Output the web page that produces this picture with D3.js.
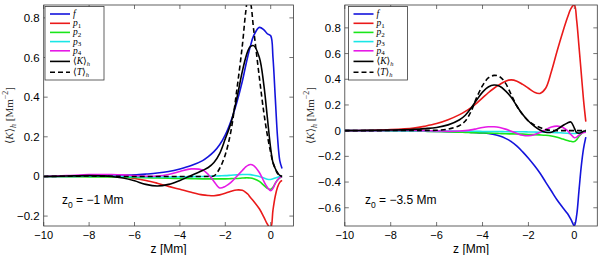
<!DOCTYPE html>
<html>
<head>
<meta charset="utf-8">
<script src="https://cdn.jsdelivr.net/npm/d3@7"></script>
<style>
  body { margin: 0; background: #fff; }
  svg { display: block; }
  text { font-family: "Liberation Sans", Arial, sans-serif; }
</style>
</head>
<body>
<script>
// ---- data: left panel (z0 = -1 Mm) ----
const zLeft = [-10, -9, -8, -7, -6.5, -6, -5.5, -5, -4.5, -4, -3.5, -3, -2.75, -2.5, -2.25, -2, -1.75, -1.5, -1.25, -1.1, -1, -0.9, -0.75, -0.5, -0.3, -0.15, 0, 0.1, 0.2, 0.3, 0.4, 0.5];
const fLeft  = [0, 0.001, 0.002, 0.004, 0.006, 0.008, 0.012, 0.017, 0.025, 0.038, 0.055, 0.08, 0.1, 0.125, 0.16, 0.21, 0.28, 0.37, 0.48, 0.56, 0.61, 0.655, 0.71, 0.752, 0.74, 0.72, 0.71, 0.6, 0.4, 0.2, 0.08, 0.04];
const p1Left = [0, 0, 0.001, 0, -0.003, -0.01, -0.02, -0.034, -0.05, -0.065, -0.08, -0.093, -0.096, -0.097, -0.093, -0.085, -0.075, -0.068, -0.07, -0.08, -0.09, -0.105, -0.125, -0.163, -0.205, -0.24, -0.26, -0.17, -0.1, -0.055, -0.03, -0.02];
const p2Left = [0, -0.001, -0.002, -0.003, -0.004, -0.005, -0.006, -0.008, -0.009, -0.01, -0.011, -0.012, -0.012, -0.012, -0.012, -0.012, -0.011, -0.01, -0.008, -0.007, -0.007, -0.008, -0.012, -0.025, -0.045, -0.06, -0.065, -0.055, -0.035, -0.018, -0.007, 0];
const p3Left = [0, 0, 0.001, 0.001, 0, -0.001, -0.002, -0.003, -0.003, -0.002, -0.001, 0, 0.001, 0.002, 0.003, 0.004, 0.006, 0.008, 0.01, 0.01, 0.01, 0.009, 0.006, 0, -0.008, -0.014, -0.015, -0.012, -0.008, -0.004, -0.001, 0];
const p4Left = [0, 0.004, 0.009, 0.01, 0.008, 0.004, 0.001, 0.002, 0.01, 0.025, 0.038, 0.032, 0.01, -0.025, -0.058, -0.05, -0.03, 0, 0.03, 0.048, 0.056, 0.06, 0.055, 0.02, -0.025, -0.055, -0.072, -0.06, -0.035, -0.018, -0.006, 0];
const kLeft  = [0, 0.002, 0.004, 0, -0.008, -0.022, -0.04, -0.048, -0.04, -0.02, 0.005, 0.03, 0.045, 0.07, 0.115, 0.19, 0.27, 0.39, 0.53, 0.6, 0.635, 0.655, 0.66, 0.6, 0.46, 0.3, 0.14, 0.07, 0.04, 0.02, 0.005, 0];
const tLeft  = [0, 0.001, 0.002, 0.001, 0, 0, 0, 0, 0, 0, 0, 0, 0, 0.003, 0.04, 0.11, 0.23, 0.43, 0.66, 0.83, 0.9, 0.88, 0.74, 0.5, 0.32, 0.21, 0.12, 0.07, 0.04, 0.015, 0.005, 0];

// ---- data: right panel (z0 = -3.5 Mm) ----
const zRight = [-10, -9, -8, -7, -6.5, -6, -5.5, -5, -4.75, -4.5, -4.25, -4, -3.75, -3.5, -3.25, -3, -2.75, -2.5, -2.25, -2, -1.75, -1.5, -1.25, -1, -0.75, -0.5, -0.3, -0.15, 0, 0.1, 0.2, 0.3, 0.4, 0.5];
const fRight  = [0, -0.001, -0.002, -0.004, -0.005, -0.006, -0.008, -0.01, -0.011, -0.013, -0.015, -0.018, -0.022, -0.03, -0.042, -0.06, -0.085, -0.12, -0.165, -0.215, -0.27, -0.33, -0.4, -0.47, -0.54, -0.6, -0.645, -0.69, -0.74, -0.66, -0.47, -0.28, -0.14, -0.05];
const p1Right = [0, 0.003, 0.008, 0.02, 0.035, 0.055, 0.085, 0.125, 0.15, 0.18, 0.215, 0.255, 0.295, 0.33, 0.36, 0.385, 0.395, 0.385, 0.36, 0.33, 0.3, 0.29, 0.33, 0.46, 0.62, 0.77, 0.88, 0.95, 0.98, 0.86, 0.66, 0.45, 0.24, 0.07];
const p2Right = [0, -0.001, -0.002, -0.004, -0.005, -0.007, -0.009, -0.012, -0.013, -0.015, -0.016, -0.018, -0.019, -0.02, -0.022, -0.024, -0.025, -0.026, -0.027, -0.03, -0.031, -0.033, -0.036, -0.042, -0.052, -0.065, -0.076, -0.083, -0.085, -0.07, -0.045, -0.025, -0.013, -0.008];
const p3Right = [0, 0, -0.001, -0.002, -0.002, -0.003, -0.003, -0.004, -0.004, -0.005, -0.005, -0.006, -0.006, -0.007, -0.007, -0.008, -0.008, -0.009, -0.009, -0.01, -0.011, -0.012, -0.012, -0.013, -0.015, -0.018, -0.02, -0.022, -0.022, -0.02, -0.016, -0.013, -0.011, -0.01];
const p4Right = [0, 0, 0.001, 0.001, 0, -0.002, -0.004, -0.003, 0, 0.006, 0.015, 0.024, 0.03, 0.03, 0.024, 0.012, -0.005, -0.022, -0.036, -0.04, -0.032, -0.015, 0.008, 0.028, 0.035, 0.025, 0, -0.03, -0.055, -0.05, -0.035, -0.022, -0.015, -0.012];
const kRight  = [0, 0.002, 0.005, 0.01, 0.016, 0.025, 0.045, 0.085, 0.12, 0.175, 0.24, 0.3, 0.34, 0.355, 0.345, 0.31, 0.26, 0.19, 0.125, 0.075, 0.035, 0.005, -0.012, -0.012, 0.01, 0.04, 0.06, 0.068, 0.02, -0.015, -0.02, -0.015, -0.005, 0];
const tRight  = [0, 0, 0.001, 0.002, 0.002, 0.003, 0.012, 0.04, 0.075, 0.15, 0.26, 0.35, 0.41, 0.43, 0.42, 0.37, 0.28, 0.19, 0.125, 0.075, 0.045, 0.025, 0.008, 0.002, 0, 0, 0, 0, 0, 0, 0, 0, 0, 0];

const xTicks = [-10, -8, -6, -4, -2, 0];
const yTicksLeft = [-0.2, 0, 0.2, 0.4, 0.6, 0.8];
const yTicksRight = [-0.6, -0.4, -0.2, 0, 0.2, 0.4, 0.6, 0.8];

const seriesKeys = ['f', 'p1', 'p2', 'p3', 'p4', 'K', 'T'];
const seriesColors = ['#1414dc', '#ea1a1a', '#1ae61a', '#1ae6e6', '#e61ae6', '#000', '#000'];

const W = 600, H = 255;
const svg = d3.select(document.body).append('svg')
  .attr('width', W).attr('height', H);

function fmt(v) {
  const s = d3.format('')(+v.toFixed(1));
  return s.replace('-', '\u2212');
}

function drawPanel(p) {
  const x = d3.scaleLinear().domain([-10, 1]).range([p.left, p.right]);
  const y = d3.scaleLinear().domain(p.yDomain).range([p.bottom, p.top]);
  const g = svg.append('g');

  const clipId = 'clip' + p.id;
  svg.append('clipPath').attr('id', clipId).append('rect')
    .attr('x', p.left).attr('y', p.top)
    .attr('width', p.right - p.left).attr('height', p.bottom - p.top);

  // ticks, all four sides, pointing inward
  const axisColor = '#3a3a3a';
  const tl = 4;
  xTicks.forEach(t => {
    g.append('line').attr('x1', x(t)).attr('x2', x(t)).attr('y1', p.bottom).attr('y2', p.bottom - tl)
      .attr('stroke', axisColor).attr('stroke-width', 0.7);
    g.append('line').attr('x1', x(t)).attr('x2', x(t)).attr('y1', p.top).attr('y2', p.top + tl)
      .attr('stroke', axisColor).attr('stroke-width', 0.7);
    g.append('text').attr('x', x(t)).attr('y', p.bottom + 12.5)
      .attr('text-anchor', 'middle').attr('font-size', 11).text(fmt(t));
  });
  p.yTicks.forEach(t => {
    g.append('line').attr('x1', p.left).attr('x2', p.left + tl).attr('y1', y(t)).attr('y2', y(t))
      .attr('stroke', axisColor).attr('stroke-width', 0.7);
    g.append('line').attr('x1', p.right).attr('x2', p.right - tl).attr('y1', y(t)).attr('y2', y(t))
      .attr('stroke', axisColor).attr('stroke-width', 0.7);
    g.append('text').attr('x', p.left - 4).attr('y', y(t) + 4)
      .attr('text-anchor', 'end').attr('font-size', 11.5).text(fmt(t));
  });

  // curves
  const line = d3.line()
    .x((d, i) => x(p.z[i]))
    .y(d => y(d))
    .curve(d3.curveCatmullRom.alpha(0.5));
  const cg = g.append('g').attr('clip-path', `url(#${clipId})`);
  p.series.forEach((vals, i) => {
    cg.append('path')
      .attr('d', line(vals))
      .attr('fill', 'none')
      .attr('stroke', seriesColors[i])
      .attr('stroke-width', 1.6)
      .attr('stroke-dasharray', seriesKeys[i] === 'T' ? '5,3' : null);
  });

  // box
  g.append('rect').attr('x', p.left).attr('y', p.top)
    .attr('width', p.right - p.left).attr('height', p.bottom - p.top)
    .attr('fill', 'none').attr('stroke', axisColor).attr('stroke-width', 0.8);

  // axis labels
  g.append('text').attr('x', (p.left + p.right) / 2).attr('y', 252.5)
    .attr('text-anchor', 'middle').attr('font-size', 12).text('z [Mm]');

  const yl = g.append('text')
    .attr('transform', `translate(${p.ylabelX},${(p.top + p.bottom) / 2}) rotate(-90)`)
    .attr('text-anchor', 'middle').attr('font-size', 11)
    .attr('fill', '#333')
    .style('font-family', '"Liberation Serif", "DejaVu Serif", serif');
  yl.append('tspan').text('\u27e8');
  yl.append('tspan').attr('font-style', 'italic').text('K');
  yl.append('tspan').text('\u27e9');
  yl.append('tspan').attr('font-size', 8).attr('dy', 3).attr('font-style', 'italic').text('h');
  yl.append('tspan').attr('dy', -3).text(' [Mm');
  yl.append('tspan').attr('font-size', 8).attr('dy', -5).text('\u22122');
  yl.append('tspan').attr('dy', 5).text(']');

  // annotation z0
  const an = g.append('text').attr('x', p.annX).attr('y', 204).attr('font-size', 12);
  an.append('tspan').text('z');
  an.append('tspan').attr('font-size', 8.5).attr('dy', 4).text('0');
  an.append('tspan').attr('dy', -4).text(' = ' + p.annText);

  // legend
  const lg = g.append('g');
  lg.append('rect').attr('x', p.legX).attr('y', 6.5).attr('width', 59).attr('height', 73.5)
    .attr('fill', '#fff').attr('stroke', axisColor).attr('stroke-width', 0.8);
  const rowY = [14, 23.3, 32.4, 41.6, 50.8, 61.4, 72.3];
  seriesKeys.forEach((k, i) => {
    lg.append('line').attr('x1', p.legX + 5).attr('x2', p.legX + 25)
      .attr('y1', rowY[i]).attr('y2', rowY[i])
      .attr('stroke', seriesColors[i]).attr('stroke-width', 1.6)
      .attr('stroke-dasharray', k === 'T' ? '5,3' : null);
    const t = lg.append('text').attr('x', p.legX + 28).attr('y', rowY[i] + 3)
      .attr('font-size', 9.5)
      .style('font-family', '"Liberation Serif", "DejaVu Serif", serif');
    if (k === 'f') {
      t.append('tspan').attr('font-style', 'italic').text('f');
    } else if (k[0] === 'p') {
      t.append('tspan').attr('font-style', 'italic').text('p');
      t.append('tspan').attr('font-size', 7).attr('dy', 1.5).text(k[1]);
    } else {
      t.append('tspan').text('\u27e8');
      t.append('tspan').attr('font-style', 'italic').text(k === 'K' ? 'K' : 'T');
      t.append('tspan').text('\u27e9');
      t.append('tspan').attr('font-size', 6.5).attr('dy', 1.5).attr('font-style', 'italic').text('h');
    }
  });
}

drawPanel({
  id: 'L', left: 43.7, right: 293.4, top: 5, bottom: 226,
  yDomain: [-0.25, 0.865], yTicks: yTicksLeft, z: zLeft,
  series: [fLeft, p1Left, p2Left, p3Left, p4Left, kLeft, tLeft],
  ylabelX: 13, annX: 62, annText: '\u22121 Mm', legX: 45
});
drawPanel({
  id: 'R', left: 344.8, right: 597.3, top: 5, bottom: 226,
  yDomain: [-0.742, 0.978], yTicks: yTicksRight, z: zRight,
  series: [fRight, p1Right, p2Right, p3Right, p4Right, kRight, tRight],
  ylabelX: 314, annX: 365, annText: '\u22123.5 Mm', legX: 348.5
});
</script>
</body>
</html>
